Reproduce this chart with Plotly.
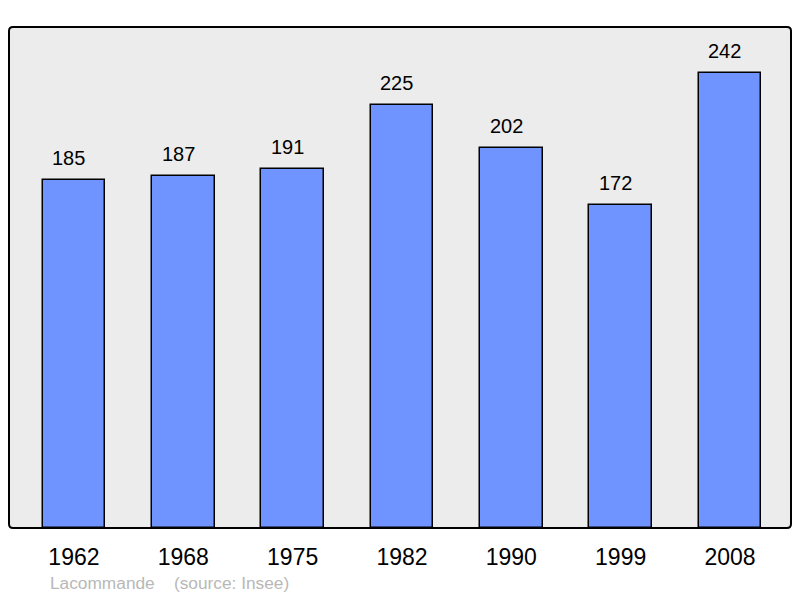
import plotly.graph_objects as go

years = ["1962", "1968", "1975", "1982", "1990", "1999", "2008"]
population = [185, 187, 191, 225, 202, 172, 242]
commune = "Lacommande"
source = "(source: Insee)"

xs = list(range(len(years)))

fig = go.Figure()
fig.add_trace(go.Bar(
    x=xs, y=population, width=0.572,
    marker=dict(color="#7094ff", line=dict(color="#000000", width=1.5)),
    hoverinfo="skip",
))

for x, v in zip(xs, population):
    fig.add_annotation(x=x, y=v, text=str(v), showarrow=False, yshift=22, xshift=-5,
                       font=dict(family="Liberation Sans, Arial", size=20, color="#000"))

# page body has an 8px offset; compensate in margins
W, H = 800, 598
L, T = 1, 19
pw, ph = 782, 501
R, B = W - L - pw, H - T - ph
r = 4
rx, ry = r / pw, r / ph
path = (f"M {rx},0 L {1-rx},0 Q 1,0 1,{ry} L 1,{1-ry} Q 1,1 {1-rx},1 "
        f"L {rx},1 Q 0,1 0,{1-ry} L 0,{ry} Q 0,0 {rx},0 Z")
fig.add_shape(type="path", path=path, xref="paper", yref="paper",
              line=dict(color="#000", width=2), layer="above")

fig.add_annotation(x=(40 - L) / pw, y=-(575 - (T + ph)) / ph, xref="paper", yref="paper",
                   xanchor="left", yanchor="middle", showarrow=False,
                   text=f"{commune}&nbsp;&nbsp;&nbsp;&nbsp;{source}",
                   font=dict(family="Liberation Sans, Arial", size=17.3, color="#b8b8b8"))

fig.update_layout(
    width=W, height=H,
    margin=dict(l=L, r=R, t=T, b=B),
    paper_bgcolor="#ffffff", plot_bgcolor="#ececec",
    showlegend=False, bargap=0,
    xaxis=dict(tickmode="array", tickvals=xs, ticktext=years, range=[-0.594, 6.558],
               showgrid=False, zeroline=False, showline=False, ticks="",
               ticklabelstandoff=13,
               tickfont=dict(family="Liberation Sans, Arial", size=23, color="#000"),
               fixedrange=True),
    yaxis=dict(range=[0, 266.5], showgrid=False, zeroline=False, showticklabels=False,
               showline=False, ticks="", fixedrange=True),
)

fig.write_html("out.html")
